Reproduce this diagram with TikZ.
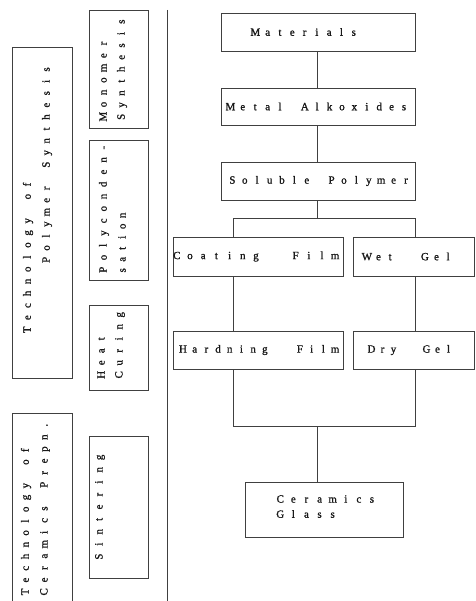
\documentclass[tikz,border=0pt]{standalone}
\usepackage{fontspec}
\newfontfamily\twfont{Liberation Serif}[FakeBold=1.2]
\newlength\pitchlen
\def\spcx#1{\ifx\relax#1\else\makebox[\pitchlen][c]{#1}\expandafter\spcx\fi}
\newcommand\spc[2]{\setlength\pitchlen{#1pt}\spcx#2\relax}
\tikzset{
  ln/.style={draw=black!75, line width=0.6pt},
  boxnode/.style={ln, rectangle, inner sep=0pt},
  txt/.style={inner sep=0pt, font=\twfont\fontsize{11}{13}\selectfont, text=black!90},
  vtxt/.style={txt, rotate=90, anchor=west},
}
\begin{document}
\begin{tikzpicture}[x=1pt,y=-1pt]
\useasboundingbox (0,0) rectangle (475,601);
% right column boxes
\node[boxnode, minimum width=194, minimum height=38] (mat) at (318,32) {};
\node[boxnode, minimum width=194, minimum height=37] (alk) at (318,106.5) {};
\node[boxnode, minimum width=194, minimum height=38] (sol) at (318,181) {};
\node[boxnode, minimum width=170, minimum height=39] (coat) at (258,256.5) {};
\node[boxnode, minimum width=121, minimum height=39] (wet) at (413.5,256.5) {};
\node[boxnode, minimum width=170, minimum height=38] (hard) at (258,350) {};
\node[boxnode, minimum width=121, minimum height=38] (dry) at (413.5,350) {};
\node[boxnode, minimum width=158, minimum height=55] (cer) at (324,509.5) {};
% right texts
\node[txt, anchor=west] (tmat) at (249,32) {\spc{12.3}{Materials}};
\node[txt, anchor=west] (talk) at (224,106.5) {\spc{12.4}{Metal~Alkoxides}};
\node[txt, anchor=west] (tsol) at (226,181) {\spc{12.4}{Soluble~Polymer}};
\node[txt] (tcoat) at (256,256.5) {\spc{13.2}{Coating~~Film}};
\node[txt] (twet) at (407.5,256.5) {\spc{11.6}{Wet~~Gel}};
\node[txt] (thard) at (259,350) {\spc{11.7}{Hardning~~Film}};
\node[txt] (tdry) at (410,350) {\spc{11}{Dry~~Gel}};
\node[txt, anchor=west] (tcer1) at (273.5,499) {\spc{13.1}{Ceramics}};
\node[txt, anchor=west] (tcer2) at (273.5,514) {\spc{13.1}{Glass}};
% connectors right
\coordinate (sm) at (317,218);
\coordinate (spl) at (233,218);
\coordinate (spr) at (415,218);
\coordinate (mm) at (317,426);
\coordinate (ml) at (233,426);
\coordinate (mr) at (415,426);
\draw[ln] (mat.south -| sm) -- (alk.north -| sm);
\draw[ln] (alk.south -| sm) -- (sol.north -| sm);
\draw[ln] (sol.south -| sm) -- (sm);
\draw[ln] (coat.north -| spl) -- (spl) -- (spr) -- (wet.north -| spr);
\draw[ln] (coat.south -| spl) -- (hard.north -| spl);
\draw[ln] (wet.south -| spr) -- (dry.north -| spr);
\draw[ln] (hard.south -| ml) -- (ml) -- (mr) -- (dry.south -| mr);
\draw[ln] (mm) -- (cer.north -| mm);
% divider
\coordinate (dtop) at (167,10);
\coordinate (dbot) at (167,605);
\draw[ln] (dtop) -- (dbot);
% left boxes
\node[boxnode, minimum width=60, minimum height=331] (tps) at (42,212.5) {};
\node[boxnode, minimum width=59, minimum height=118] (mono) at (118.5,69) {};
\node[boxnode, minimum width=59, minimum height=140] (poly) at (118.5,210) {};
\node[boxnode, minimum width=59, minimum height=85] (heat) at (118.5,347.5) {};
\node[boxnode, minimum width=60, minimum height=197] (tcp) at (42,511.5) {};
\node[boxnode, minimum width=59, minimum height=142] (sint) at (118.5,507) {};
% left texts (rotated)
\node[vtxt] (ttps1) at (28,336) {\spc{12.1}{Technology~of}};
\node[vtxt] (ttps2) at (47,266) {\spc{11.9}{Polymer~Synthesis}};
\node[vtxt] (tmono1) at (103,123) {\spc{12.2}{Monomer}};
\node[vtxt] (tmono2) at (122,123) {\spc{11.9}{Synthesis}};
\node[vtxt] (tpoly1) at (104,276) {\spc{12.2}{Polyconden-}};
\node[vtxt] (tpoly2) at (122,276) {\spc{11}{sation}};
\node[vtxt] (theat1) at (101,381) {\spc{12}{Heat}};
\node[vtxt] (theat2) at (120,381) {\spc{12}{Curing}};
\node[vtxt] (ttcp1) at (26,598) {\spc{11.8}{Technology~of}};
\node[vtxt] (ttcp2) at (45,598) {\spc{11.9}{Ceramics~Prepn.}};
\node[vtxt] (tsint) at (100,563) {\spc{12.4}{Sintering}};
\end{tikzpicture}
\end{document}
